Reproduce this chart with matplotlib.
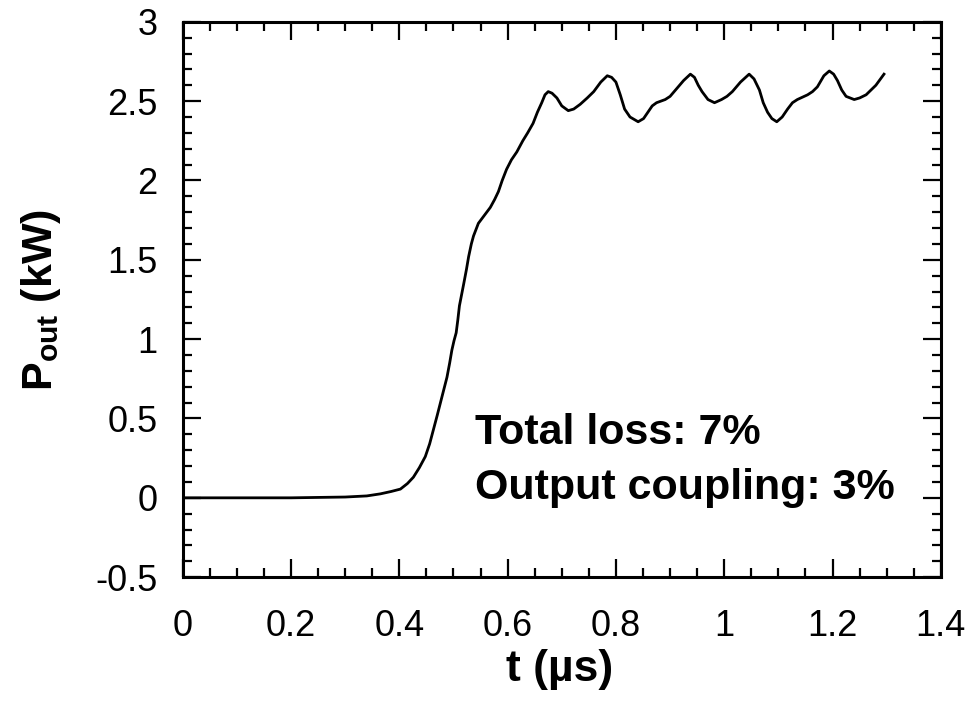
import numpy as np
import matplotlib
matplotlib.use('Agg')
import matplotlib.pyplot as plt
from matplotlib.ticker import MultipleLocator

# curve: t (us), P_out (kW)
t_us = [0.0, 0.1, 0.2, 0.3, 0.34, 0.365, 0.385, 0.402, 0.415, 0.426, 0.437, 0.448,
        0.456, 0.463, 0.470, 0.476, 0.482, 0.488, 0.493, 0.497, 0.501, 0.505, 0.508,
        0.511, 0.515, 0.519, 0.524, 0.528, 0.533, 0.537, 0.546, 0.557, 0.568, 0.576,
        0.583, 0.590, 0.598, 0.607, 0.617, 0.628, 0.637, 0.647, 0.655, 0.663, 0.669,
        0.675, 0.682, 0.691, 0.700, 0.712, 0.722, 0.734, 0.747, 0.759, 0.772, 0.784,
        0.792, 0.800, 0.808, 0.816, 0.826, 0.841, 0.851, 0.859, 0.867, 0.875, 0.891,
        0.900, 0.9125, 0.925, 0.9375, 0.945, 0.952, 0.959, 0.970, 0.982, 0.995, 1.005,
        1.015, 1.030, 1.046, 1.055, 1.065, 1.072, 1.080, 1.088, 1.097, 1.107, 1.117,
        1.126, 1.135, 1.154, 1.163, 1.172, 1.184, 1.194, 1.202, 1.209, 1.217, 1.225,
        1.240, 1.250, 1.262, 1.280, 1.295]
p_out = [0.0, 0.0, 0.0, 0.005, 0.012, 0.025, 0.04, 0.055, 0.09, 0.13, 0.19, 0.26,
         0.34, 0.43, 0.52, 0.60, 0.68, 0.76, 0.85, 0.93, 0.99, 1.04, 1.12,
         1.21, 1.28, 1.35, 1.44, 1.52, 1.60, 1.65, 1.73, 1.78, 1.83, 1.88,
         1.93, 2.00, 2.07, 2.13, 2.18, 2.25, 2.30, 2.36, 2.43, 2.49, 2.54,
         2.56, 2.55, 2.52, 2.47, 2.44, 2.45, 2.48, 2.52, 2.56, 2.62, 2.66,
         2.65, 2.62, 2.54, 2.45, 2.40, 2.37, 2.39, 2.43, 2.47, 2.49, 2.51,
         2.53, 2.58, 2.63, 2.67, 2.65, 2.60, 2.56, 2.51, 2.49, 2.51, 2.53,
         2.56, 2.62, 2.67, 2.64, 2.57, 2.49, 2.43, 2.39, 2.37, 2.40, 2.45,
         2.49, 2.51, 2.54, 2.56, 2.59, 2.66, 2.69, 2.67, 2.63, 2.57, 2.53,
         2.51, 2.52, 2.54, 2.60, 2.67]

x_ticks = [0, 0.2, 0.4, 0.6, 0.8, 1, 1.2, 1.4]
x_ticklabels = ['0', '0.2', '0.4', '0.6', '0.8', '1', '1.2', '1.4']
y_ticks = [-0.5, 0, 0.5, 1, 1.5, 2, 2.5, 3]
y_ticklabels = ['-0.5', '0', '0.5', '1', '1.5', '2', '2.5', '3']
note_lines = ['Total loss: 7%', 'Output coupling: 3%']

plt.rcParams['font.family'] = ['Liberation Sans', 'DejaVu Sans']
plt.rcParams['mathtext.fontset'] = 'custom'
plt.rcParams['mathtext.rm'] = 'Liberation Sans'
plt.rcParams['mathtext.bf'] = 'Liberation Sans:bold'

fig = plt.figure(figsize=(9.77, 7.03), dpi=100)
ax = fig.add_axes([0.187, 0.179, 0.776, 0.790])

ax.plot(t_us, p_out, color='black', lw=2.0)

ax.set_xlim(0, 1.4)
ax.set_ylim(-0.5, 3)
ax.set_xticks(x_ticks)
ax.set_xticklabels(x_ticklabels)
ax.set_yticks(y_ticks)
ax.set_yticklabels(y_ticklabels)
ax.xaxis.set_minor_locator(MultipleLocator(0.05))
ax.yaxis.set_minor_locator(MultipleLocator(0.1))
ax.tick_params(which='both', direction='in', top=True, right=True, width=1.6,
               labelsize=26, color='black')
ax.tick_params(which='major', length=13)
ax.tick_params(which='minor', length=6.5)
ax.tick_params(axis='x', which='major', pad=23)
ax.tick_params(axis='y', which='major', pad=18)
for sp in ax.spines.values():
    sp.set_linewidth(2.2)

ax.set_xlabel('t (µs)', fontsize=32, fontweight='bold')
ax.set_ylabel(r'$\mathbf{P_{out}}$ (kW)', fontsize=31, fontweight='bold')
ax.xaxis.set_label_coords(0.497, -0.13)
ax.yaxis.set_label_coords(-0.158, 0.5)

# annotation text
ax.text(0.54, 0.41, note_lines[0], fontsize=31, fontweight='bold', va='center', ha='left')
ax.text(0.54, 0.06, note_lines[1], fontsize=31, fontweight='bold', va='center', ha='left')

fig.savefig('out.png', dpi=100)
